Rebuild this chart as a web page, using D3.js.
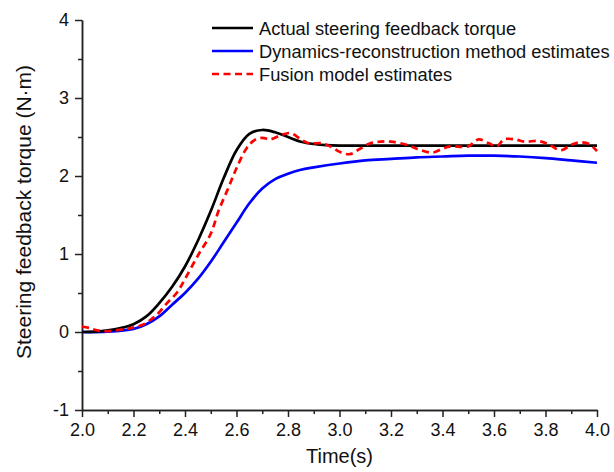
<!DOCTYPE html>
<html>
<head>
<meta charset="utf-8">
<script src="https://cdn.jsdelivr.net/npm/d3@7"></script>
<style>
  body { margin: 0; background: #fff; }
  svg text { font-family: Arial, "Liberation Sans", sans-serif; fill: #111; }
</style>
</head>
<body>
<div id="chart"></div>
<script>
// series
const actualT = [2.0, 2.05, 2.1, 2.15, 2.2, 2.25, 2.3, 2.35, 2.4, 2.45, 2.5, 2.55, 2.6, 2.65, 2.7, 2.75, 2.8, 2.85, 2.9, 2.95, 3.0, 3.2, 3.5, 3.8, 4.0];
const actualV = [0, 0.005, 0.02, 0.05, 0.1, 0.2, 0.37, 0.58, 0.84, 1.17, 1.55, 1.97, 2.33, 2.54, 2.59, 2.56, 2.5, 2.44, 2.41, 2.395, 2.39, 2.39, 2.39, 2.39, 2.39];

const dynT = [2.0, 2.1, 2.2, 2.25, 2.3, 2.35, 2.4, 2.45, 2.5, 2.55, 2.6, 2.65, 2.7, 2.75, 2.8, 2.85, 2.9, 3.0, 3.1, 3.2, 3.3, 3.4, 3.5, 3.6, 3.7, 3.8, 3.9, 4.0];
const dynV = [0, 0.005, 0.04, 0.1, 0.2, 0.35, 0.5, 0.68, 0.9, 1.15, 1.4, 1.65, 1.84, 1.96, 2.03, 2.08, 2.11, 2.16, 2.2, 2.22, 2.24, 2.25, 2.26, 2.26, 2.25, 2.23, 2.2, 2.17];

const fusionT = [2.0, 2.03, 2.06, 2.1, 2.15, 2.19, 2.24, 2.29, 2.33, 2.37, 2.4, 2.45, 2.5, 2.53, 2.57, 2.6, 2.64, 2.67, 2.7, 2.73, 2.77, 2.81, 2.85, 2.88, 2.93, 2.97, 3.0, 3.04, 3.08, 3.12, 3.16, 3.2, 3.26, 3.3, 3.36, 3.4, 3.43, 3.5, 3.54, 3.58, 3.61, 3.64, 3.68, 3.72, 3.77, 3.81, 3.86, 3.9, 3.93, 3.97, 4.0];
const fusionV = [0.07, 0.05, 0.02, 0.01, 0.03, 0.05, 0.1, 0.22, 0.37, 0.51, 0.68, 0.98, 1.26, 1.55, 1.86, 2.1, 2.36, 2.46, 2.49, 2.47, 2.52, 2.55, 2.47, 2.42, 2.42, 2.37, 2.31, 2.28, 2.35, 2.42, 2.44, 2.44, 2.4, 2.35, 2.3, 2.35, 2.38, 2.38, 2.47, 2.42, 2.38, 2.47, 2.47, 2.44, 2.45, 2.41, 2.33, 2.4, 2.43, 2.41, 2.32];

const xTicks = [2.0, 2.2, 2.4, 2.6, 2.8, 3.0, 3.2, 3.4, 3.6, 3.8, 4.0];
const yTicks = [-1, 0, 1, 2, 3, 4];

const seriesNames = ['Actual steering feedback torque', 'Dynamics-reconstruction method estimates', 'Fusion model estimates'];

const width = 614, height = 472;
const margin = { top: 20, right: 17, bottom: 62, left: 82 };

const svg = d3.select('#chart').append('svg')
    .attr('width', width)
    .attr('height', height);

const xScale = d3.scaleLinear()
    .domain([2.0, 4.0])
    .range([margin.left, width - margin.right]);

const yScale = d3.scaleLinear()
    .domain([-1, 4])
    .range([height - margin.bottom, margin.top]);

// axes: major ticks with labels, minor ticks between
const xAxis = d3.axisBottom(xScale).tickValues(xTicks).tickFormat(d3.format('.1f')).tickSize(7).tickSizeOuter(0);
const xMinor = d3.axisBottom(xScale).tickValues(d3.range(2.1, 4.0, 0.2)).tickFormat('').tickSize(4).tickSizeOuter(0);
const yAxis = d3.axisLeft(yScale).tickValues(yTicks).tickFormat(d => String(d)).tickSize(7).tickSizeOuter(0);
const yMinor = d3.axisLeft(yScale).tickValues(d3.range(-0.5, 4, 1)).tickFormat('').tickSize(4).tickSizeOuter(0);

const gx = svg.append('g')
    .attr('transform', `translate(0,${height - margin.bottom})`)
    .call(xAxis);
svg.append('g')
    .attr('transform', `translate(0,${height - margin.bottom})`)
    .call(xMinor);
const gy = svg.append('g')
    .attr('transform', `translate(${margin.left},0)`)
    .call(yAxis);
svg.append('g')
    .attr('transform', `translate(${margin.left},0)`)
    .call(yMinor);

svg.selectAll('.domain, .tick line')
    .attr('stroke', '#222')
    .attr('stroke-width', 1.5);

gx.selectAll('text')
    .attr('font-size', 18)
    .attr('y', 13)
    .attr('dy', '0.71em');
gy.selectAll('text')
    .attr('font-size', 18)
    .attr('x', -13);

// axis titles
svg.append('text')
    .attr('x', xScale(3.0))
    .attr('y', 463)
    .attr('text-anchor', 'middle')
    .attr('font-size', 20)
    .text('Time(s)');

svg.append('text')
    .attr('transform', `translate(31,212) rotate(-90)`)
    .attr('text-anchor', 'middle')
    .attr('font-size', 21)
    .text('Steering feedback torque (N·m)');

const line = d3.line()
    .x(d => xScale(d[0]))
    .y(d => yScale(d[1]))
    .curve(d3.curveCatmullRom.alpha(0.5));

const series = [
    { name: seriesNames[0], t: actualT, v: actualV, color: '#000000', dash: null },
    { name: seriesNames[1], t: dynT, v: dynV, color: '#0000ff', dash: null },
    { name: seriesNames[2], t: fusionT, v: fusionV, color: '#ff0000', dash: '7,4.5' }
];

// draw blue, black then red on top
[series[1], series[0], series[2]].forEach(s => {
    svg.append('path')
        .datum(d3.zip(s.t, s.v))
        .attr('fill', 'none')
        .attr('stroke', s.color)
        .attr('stroke-width', 2.7)
        .attr('stroke-dasharray', s.dash)
        .attr('d', line);
});

// legend
const legend = svg.append('g')
    .attr('transform', 'translate(212,28)');

series.forEach((s, i) => {
    const row = legend.append('g')
        .attr('transform', `translate(0,${i * 23})`);
    row.append('line')
        .attr('x1', 0).attr('x2', 41)
        .attr('y1', 0).attr('y2', 0)
        .attr('stroke', s.color)
        .attr('stroke-width', 2.7)
        .attr('stroke-dasharray', s.dash);
    row.append('text')
        .attr('x', 47)
        .attr('y', 6.5)
        .attr('font-size', 18.3)
        .text(s.name);
});
</script>
</body>
</html>
